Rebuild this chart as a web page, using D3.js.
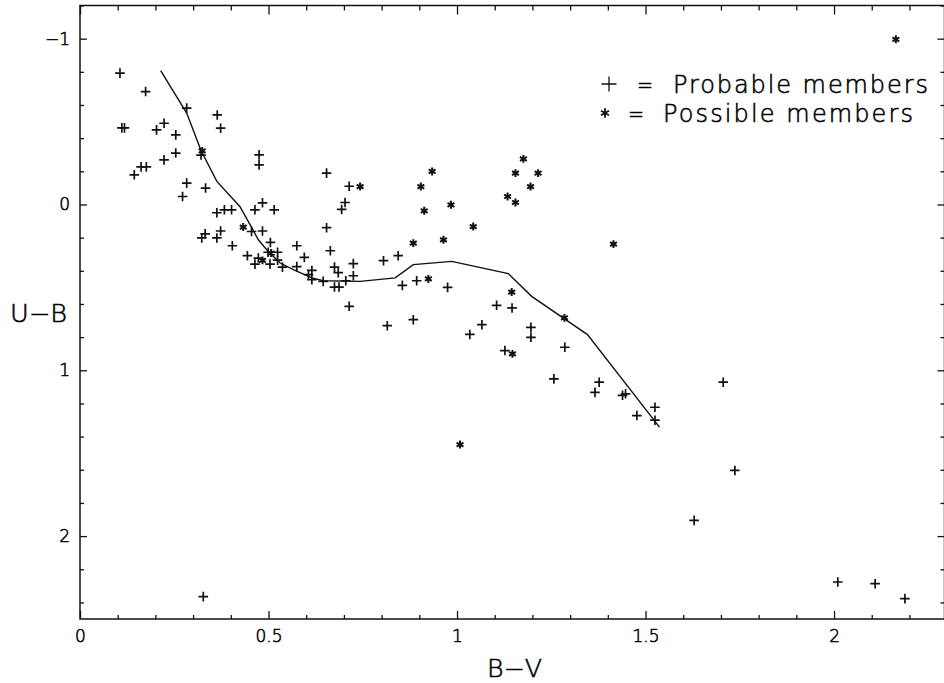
<!DOCTYPE html>
<html>
<head>
<meta charset="utf-8">
<script src="https://cdn.jsdelivr.net/npm/d3@7"></script>
<style>
body { margin: 0; background: #fff; }
text { font-family: "DejaVu Sans", sans-serif; font-weight: 200; fill: #000; stroke: #000; stroke-width: 0.55px; }
</style>
</head>
<body>
<svg width="944" height="683"></svg>
<script>
// Probable members (+), [B-V, U-B]
const probable = [
    [0.106, -0.792], [0.174, -0.681], [0.283, -0.581], [0.364, -0.540], [0.111, -0.462],
    [0.118, -0.462], [0.203, -0.450], [0.223, -0.490], [0.373, -0.460], [0.254, -0.420],
    [0.321, -0.298], [0.254, -0.310], [0.223, -0.269], [0.475, -0.299], [0.475, -0.239],
    [0.162, -0.227], [0.176, -0.227], [0.144, -0.179], [0.283, -0.129], [0.272, -0.048],
    [0.333, -0.099], [0.484, -0.010], [0.464, 0.032], [0.515, 0.032], [0.363, 0.050],
    [0.383, 0.032], [0.402, 0.032], [0.654, -0.189], [0.714, -0.110], [0.703, -0.012],
    [0.694, 0.030], [0.654, 0.140], [0.455, 0.163], [0.484, 0.160], [0.332, 0.177],
    [0.323, 0.202], [0.373, 0.160], [0.363, 0.202], [0.404, 0.249], [0.505, 0.229],
    [0.499, 0.288], [0.524, 0.288], [0.575, 0.249], [0.664, 0.279], [0.444, 0.309],
    [0.473, 0.323], [0.464, 0.360], [0.504, 0.360], [0.524, 0.336], [0.595, 0.319],
    [0.537, 0.378], [0.575, 0.375], [0.615, 0.398], [0.606, 0.423], [0.675, 0.378],
    [0.685, 0.411], [0.725, 0.357], [0.725, 0.430], [0.615, 0.454], [0.645, 0.464],
    [0.705, 0.460], [0.675, 0.498], [0.687, 0.498], [0.805, 0.339], [0.844, 0.309],
    [0.855, 0.488], [0.893, 0.460], [0.975, 0.500], [0.714, 0.614], [0.815, 0.731],
    [0.884, 0.695], [1.034, 0.784], [1.066, 0.725], [1.105, 0.608], [1.146, 0.624],
    [1.196, 0.741], [1.196, 0.801], [1.127, 0.881], [1.286, 0.861], [1.257, 1.052],
    [1.377, 1.072], [1.366, 1.133], [1.439, 1.151], [1.447, 1.142], [1.477, 1.273],
    [1.525, 1.223], [1.525, 1.301], [1.706, 1.072], [1.737, 1.604], [1.629, 1.905],
    [2.010, 2.277], [2.109, 2.287], [2.188, 2.377], [0.327, 2.365]
];

// Possible members (*)
const possible = [
    [0.324, -0.323], [0.433, 0.136], [0.507, 0.293], [0.484, 0.337], [0.743, -0.108],
    [0.904, -0.108], [0.934, -0.199], [0.913, 0.038], [0.984, 0.002], [1.043, 0.133],
    [0.884, 0.233], [0.964, 0.213], [1.176, -0.275], [1.155, -0.189], [1.215, -0.189],
    [1.195, -0.108], [1.134, -0.048], [1.155, -0.012], [1.415, 0.239], [0.924, 0.449],
    [1.145, 0.528], [1.147, 0.901], [1.285, 0.684], [1.008, 1.448], [2.164, -0.996]
];

// Reference sequence curve
const curve = [
    [0.214, -0.807], [0.283, -0.551], [0.321, -0.325], [0.363, -0.139], [0.424, 0.012],
    [0.451, 0.122], [0.473, 0.213], [0.499, 0.283], [0.531, 0.353], [0.566, 0.393],
    [0.615, 0.443], [0.645, 0.460], [0.743, 0.464], [0.836, 0.443], [0.884, 0.363],
    [0.986, 0.343], [1.136, 0.417], [1.198, 0.554], [1.346, 0.785], [1.537, 1.343]
];

const xMajor = [0, 0.5, 1, 1.5, 2];
const xLabels = ["0", "0.5", "1", "1.5", "2"];
const yMajor = [-1, 0, 1, 2];
const yLabels = ["\u22121", "0", "1", "2"];

const svg = d3.select("svg");

const x = d3.scaleLinear().domain([0, 2.293]).range([80, 944.5]);
const y = d3.scaleLinear().domain([-1.2, 2.5]).range([5.5, 619]);

const xMinor = d3.range(0, 2.3, 0.1).filter(v => Math.abs(v * 2 - Math.round(v * 2)) > 1e-6);
const yMinor = d3.range(-1.2, 2.5, 0.2).filter(v => Math.abs(v - Math.round(v)) > 1e-6);

// Frame
svg.append("rect")
    .attr("x", x(0)).attr("y", y(-1.2))
    .attr("width", x(2.293) - x(0)).attr("height", y(2.5) - y(-1.2))
    .attr("fill", "none").attr("stroke", "#111").attr("stroke-width", 1.5);

function styleAxis(g) {
    g.select(".domain").remove();
    g.selectAll("line").attr("stroke", "#111").attr("stroke-width", 1.3);
    g.selectAll("text").attr("font-size", 17).attr("font-family", "DejaVu Sans");
}

// Bottom axis, ticks inward
svg.append("g").attr("transform", `translate(0,${y(2.5)})`)
    .call(d3.axisBottom(x).tickValues(xMajor).tickSize(-8).tickPadding(11)
        .tickFormat((d, i) => xLabels[i]))
    .call(styleAxis);
svg.append("g").attr("transform", `translate(0,${y(2.5)})`)
    .call(d3.axisBottom(x).tickValues(xMinor).tickSize(-4).tickFormat(""))
    .call(styleAxis);

// Top axis
svg.append("g").attr("transform", `translate(0,${y(-1.2)})`)
    .call(d3.axisTop(x).tickValues(xMajor).tickSize(-9).tickFormat(""))
    .call(styleAxis);
svg.append("g").attr("transform", `translate(0,${y(-1.2)})`)
    .call(d3.axisTop(x).tickValues(xMinor).tickSize(-5).tickFormat(""))
    .call(styleAxis);

// Left axis
svg.append("g").attr("transform", `translate(${x(0)},0)`)
    .call(d3.axisLeft(y).tickValues(yMajor).tickSize(-7).tickPadding(10)
        .tickFormat((d, i) => yLabels[i]))
    .call(styleAxis);
svg.append("g").attr("transform", `translate(${x(0)},0)`)
    .call(d3.axisLeft(y).tickValues(yMinor).tickSize(-4).tickFormat(""))
    .call(styleAxis);

// Right axis
svg.append("g").attr("transform", `translate(${x(2.293)},0)`)
    .call(d3.axisRight(y).tickValues(yMajor).tickSize(-7).tickFormat(""))
    .call(styleAxis);
svg.append("g").attr("transform", `translate(${x(2.293)},0)`)
    .call(d3.axisRight(y).tickValues(yMinor).tickSize(-4).tickFormat(""))
    .call(styleAxis);

// Axis titles
svg.append("text").attr("x", 10).attr("y", 322)
    .attr("font-size", 24).attr("textLength", 57).attr("lengthAdjust", "spacingAndGlyphs")
    .text("U\u2212B");
svg.append("text").attr("x", 487).attr("y", 677)
    .attr("font-size", 24).attr("textLength", 55).attr("lengthAdjust", "spacingAndGlyphs")
    .text("B\u2212V");

// Curve
svg.append("path")
    .datum(curve)
    .attr("d", d3.line().x(d => x(d[0])).y(d => y(d[1])))
    .attr("fill", "none").attr("stroke", "#111").attr("stroke-width", 1.4);

// Points
const plusPath = d3.symbol().type(d3.symbolPlus).size(32)();
const starPath = d3.symbol().type(d3.symbolAsterisk).size(44)();

svg.append("g").selectAll("path")
    .data(probable).join("path")
    .attr("transform", d => `translate(${x(d[0])},${y(d[1])})`)
    .attr("d", plusPath)
    .attr("fill", "none").attr("stroke", "#111").attr("stroke-width", 1.7);

svg.append("g").selectAll("path")
    .data(possible).join("path")
    .attr("transform", d => `translate(${x(d[0])},${y(d[1])})`)
    .attr("d", starPath)
    .attr("fill", "none").attr("stroke", "#111").attr("stroke-width", 2);

// Legend
const legend = svg.append("g");
legend.append("path").attr("transform", "translate(609,84)")
    .attr("d", d3.symbol().type(d3.symbolPlus).size(75)())
    .attr("fill", "none").attr("stroke", "#111").attr("stroke-width", 1.3);
legend.append("path").attr("transform", "translate(605,113)")
    .attr("d", d3.symbol().type(d3.symbolAsterisk).size(60)())
    .attr("fill", "none").attr("stroke", "#111").attr("stroke-width", 1.8);
legend.append("text").attr("x", 637).attr("y", 93).attr("font-size", 24)
    .attr("textLength", 16).attr("lengthAdjust", "spacingAndGlyphs").text("=");
legend.append("text").attr("x", 673).attr("y", 93).attr("font-size", 24)
    .attr("textLength", 255).attr("lengthAdjust", "spacing").text("Probable members");
legend.append("text").attr("x", 628).attr("y", 122).attr("font-size", 24)
    .attr("textLength", 16).attr("lengthAdjust", "spacingAndGlyphs").text("=");
legend.append("text").attr("x", 663).attr("y", 122).attr("font-size", 24)
    .attr("textLength", 250).attr("lengthAdjust", "spacing").text("Possible members");
</script>
</body>
</html>
